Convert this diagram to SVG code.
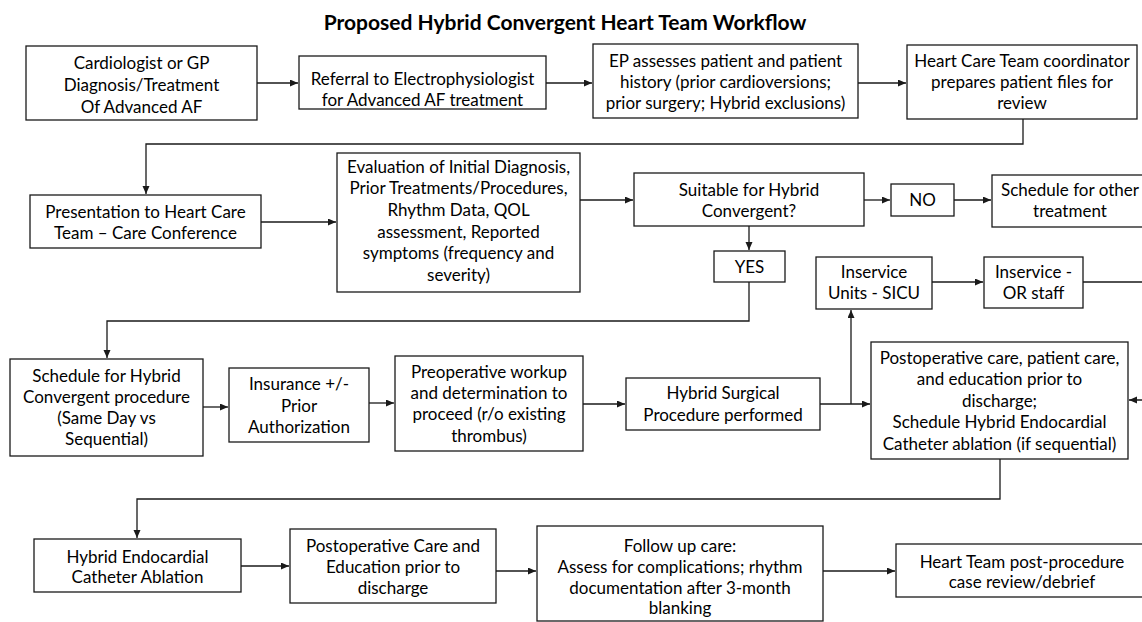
<svg xmlns="http://www.w3.org/2000/svg" width="1142" height="622" viewBox="0 0 1142 622">
<defs>
<style>
.box{fill:#fff;stroke:#1a1a1a;stroke-width:1.3}
.t{font-family:Lato,"Liberation Sans",sans-serif;font-size:17px;fill:#000;text-anchor:middle}
.title{font-family:Lato,"Liberation Sans",sans-serif;font-size:21px;font-weight:bold;fill:#000;text-anchor:middle}
.c{fill:none;stroke:#1a1a1a;stroke-width:1.3;marker-end:url(#ah)}
</style>
<marker id="ah" markerUnits="userSpaceOnUse" markerWidth="9" markerHeight="8" refX="8" refY="3.5" orient="auto">
<path d="M0,0 L8,3.5 L0,7 z" fill="#1a1a1a"/>
</marker>
</defs>
<rect width="1142" height="622" fill="#fff"/>
<text class="title" x="565" y="30">Proposed Hybrid Convergent Heart Team Workflow</text>

<g id="connectors">
<path class="c" d="M257,83 H298"/>
<path class="c" d="M546,83 H592"/>
<path class="c" d="M858,83 H906"/>
<path class="c" d="M1023,119 V144 H146 V194"/>
<path class="c" d="M261,222 H336"/>
<path class="c" d="M580,200 H633"/>
<path class="c" d="M864,200 H890"/>
<path class="c" d="M954,200 H991"/>
<path class="c" d="M749,226 V250"/>
<path class="c" d="M749,282 V321 H107 V358"/>
<path class="c" d="M203,407 H228"/>
<path class="c" d="M369,403 H394"/>
<path class="c" d="M583,404 H625"/>
<path class="c" d="M820,404 H870"/>
<path class="c" d="M851,404 V310"/>
<path class="c" d="M932,282 H983"/>
<path class="c" d="M1083,282 H1150 V400 H1129"/>
<path class="c" d="M1000,459 V499 H137 V538"/>
<path class="c" d="M241,566 H289"/>
<path class="c" d="M496,571 H536"/>
<path class="c" d="M823,571 H895"/>
</g>

<g id="n1"><rect class="box" x="26" y="46" width="231" height="74"/>
<text class="t" x="141.5" y="69">Cardiologist or GP</text>
<text class="t" x="141.5" y="91">Diagnosis/Treatment</text>
<text class="t" x="141.5" y="113">Of Advanced AF</text></g>

<g id="n2"><rect class="box" x="299" y="56" width="247" height="53"/>
<text class="t" x="422.5" y="85">Referral to Electrophysiologist</text>
<text class="t" x="422.5" y="106">for Advanced AF treatment</text></g>

<g id="n3"><rect class="box" x="593" y="44" width="265" height="74"/>
<text class="t" x="725.5" y="67">EP assesses patient and patient</text>
<text class="t" x="725.5" y="88">history (prior cardioversions;</text>
<text class="t" x="725.5" y="109">prior surgery; Hybrid exclusions)</text></g>

<g id="n4"><rect class="box" x="907" y="45" width="230" height="74"/>
<text class="t" x="1022" y="67">Heart Care Team coordinator</text>
<text class="t" x="1022" y="88">prepares patient files for</text>
<text class="t" x="1022" y="109">review</text></g>

<g id="n5"><rect class="box" x="30" y="195" width="231" height="53"/>
<text class="t" x="145.5" y="218">Presentation to Heart Care</text>
<text class="t" x="145.5" y="239">Team – Care Conference</text></g>

<g id="n6"><rect class="box" x="337" y="153" width="243" height="139"/>
<text class="t" x="458.5" y="173">Evaluation of Initial Diagnosis,</text>
<text class="t" x="458.5" y="194">Prior Treatments/Procedures,</text>
<text class="t" x="458.5" y="216">Rhythm Data, QOL</text>
<text class="t" x="458.5" y="238">assessment, Reported</text>
<text class="t" x="458.5" y="259">symptoms (frequency and</text>
<text class="t" x="458.5" y="281">severity)</text></g>

<g id="n7"><rect class="box" x="634" y="173" width="230" height="53"/>
<text class="t" x="749" y="196">Suitable for Hybrid</text>
<text class="t" x="749" y="217">Convergent?</text></g>

<g id="n8"><rect class="box" x="891" y="184" width="63" height="32"/>
<text class="t" x="922.5" y="206">NO</text></g>

<g id="n9"><rect class="box" x="992" y="175" width="156" height="52"/>
<text class="t" x="1070" y="196">Schedule for other</text>
<text class="t" x="1070" y="217">treatment</text></g>

<g id="n10"><rect class="box" x="714" y="251" width="71" height="31"/>
<text class="t" x="749.5" y="273">YES</text></g>

<g id="n11"><rect class="box" x="816" y="257" width="116" height="52"/>
<text class="t" x="874" y="278">Inservice</text>
<text class="t" x="874" y="299">Units - SICU</text></g>

<g id="n12"><rect class="box" x="984" y="257" width="99" height="51"/>
<text class="t" x="1033.5" y="278">Inservice -</text>
<text class="t" x="1033.5" y="299">OR staff</text></g>

<g id="n13"><rect class="box" x="10" y="359" width="193" height="97"/>
<text class="t" x="106.5" y="382">Schedule for Hybrid</text>
<text class="t" x="106.5" y="403">Convergent procedure</text>
<text class="t" x="106.5" y="424">(Same Day vs</text>
<text class="t" x="106.5" y="445">Sequential)</text></g>

<g id="n14"><rect class="box" x="229" y="368" width="140" height="74"/>
<text class="t" x="299" y="390">Insurance +/-</text>
<text class="t" x="299" y="412">Prior</text>
<text class="t" x="299" y="433">Authorization</text></g>

<g id="n15"><rect class="box" x="395" y="356" width="188" height="95"/>
<text class="t" x="489" y="378">Preoperative workup</text>
<text class="t" x="489" y="399">and determination to</text>
<text class="t" x="489" y="420">proceed (r/o existing</text>
<text class="t" x="489" y="442">thrombus)</text></g>

<g id="n16"><rect class="box" x="626" y="378" width="194" height="52"/>
<text class="t" x="723" y="399">Hybrid Surgical</text>
<text class="t" x="723" y="421">Procedure performed</text></g>

<g id="n17"><rect class="box" x="871" y="342" width="257" height="117"/>
<text class="t" x="999.5" y="364">Postoperative care, patient care,</text>
<text class="t" x="999.5" y="385">and education prior to</text>
<text class="t" x="999.5" y="407">discharge;</text>
<text class="t" x="999.5" y="428">Schedule Hybrid Endocardial</text>
<text class="t" x="999.5" y="450">Catheter ablation (if sequential)</text></g>

<g id="n18"><rect class="box" x="34" y="539" width="207" height="53"/>
<text class="t" x="137.5" y="563">Hybrid Endocardial</text>
<text class="t" x="137.5" y="583">Catheter Ablation</text></g>

<g id="n19"><rect class="box" x="290" y="529" width="206" height="74"/>
<text class="t" x="393" y="552">Postoperative Care and</text>
<text class="t" x="393" y="573">Education prior to</text>
<text class="t" x="393" y="594">discharge</text></g>

<g id="n20"><rect class="box" x="537" y="526" width="286" height="95"/>
<text class="t" x="680" y="552">Follow up care:</text>
<text class="t" x="680" y="573">Assess for complications; rhythm</text>
<text class="t" x="680" y="594">documentation after 3-month</text>
<text class="t" x="680" y="614">blanking</text></g>

<g id="n21"><rect class="box" x="896" y="544" width="252" height="53"/>
<text class="t" x="1022" y="568">Heart Team post-procedure</text>
<text class="t" x="1022" y="588">case review/debrief</text></g>
</svg>
